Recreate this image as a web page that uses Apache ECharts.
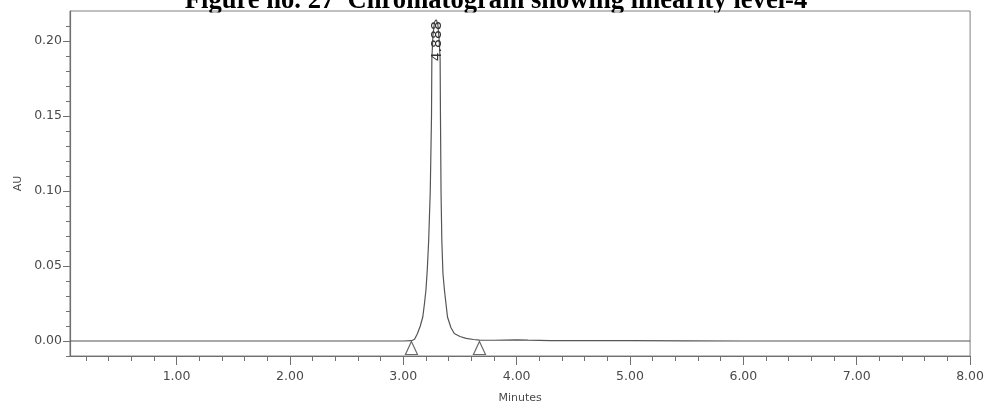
<!DOCTYPE html>
<html>
<head>
<meta charset="utf-8">
<title>Chromatogram – linearity level-4</title>
<script src="https://cdn.jsdelivr.net/npm/echarts@6.0.0/dist/echarts.min.js"></script>
<style>
  html, body { margin: 0; padding: 0; background: #fff; }
  #chart { width: 987px; height: 410px; }
</style>
</head>
<body>
<div id="chart"></div>
<script>
// Detector trace: retention time (min) and absorbance (AU)
const timeMin = [
  0.06, 0.50, 1.00, 1.50, 2.00, 2.50, 3.00,
  3.072, 3.100, 3.125, 3.150, 3.172, 3.187, 3.200, 3.212, 3.224, 3.238, 3.249,
  3.252, 3.262, 3.275, 3.290, 3.305, 3.317, 3.325, 3.328, 3.333, 3.340,
  3.350, 3.363, 3.390, 3.420, 3.450, 3.500, 3.555, 3.620, 3.672,
  3.80, 4.00, 4.10, 4.30, 4.60, 5.00, 5.50, 6.00, 7.00, 8.00
];
const absorbanceAU = [
  0.0000, 0.0000, 0.0000, 0.0000, 0.0000, 0.0000, 0.0000,
  0.0002, 0.0012, 0.0050, 0.0100, 0.0160, 0.0250, 0.0340, 0.0480, 0.0670, 0.1000, 0.1500,
  0.1880, 0.2040, 0.2125, 0.2145, 0.2110, 0.2000, 0.1880, 0.1500, 0.1000, 0.0670,
  0.0450, 0.0340, 0.0160, 0.0090, 0.0050, 0.0030, 0.0018, 0.0010, 0.0006,
  0.0005, 0.0008, 0.0006, 0.0003, 0.0002, 0.0002, 0.0001, 0.0000, 0.0000, 0.0000
];

// Integrated peak: start / end markers and retention-time label at the apex
const peakBoundsMin = [3.072, 3.672];
const peakApex = [3.290, 0.2145];
const peakLabel = '4.888';

// Axis ticks and labels
const xMajorTicks = [1, 2, 3, 4, 5, 6, 7, 8];
const xMinorTicks = [0.2, 0.4, 0.6, 0.8, 1.2, 1.4, 1.6, 1.8, 2.2, 2.4, 2.6, 2.8,
  3.2, 3.4, 3.6, 3.8, 4.2, 4.4, 4.6, 4.8, 5.2, 5.4, 5.6, 5.8, 6.2, 6.4, 6.6, 6.8,
  7.2, 7.4, 7.6, 7.8];
const yMajorTicks = [0.00, 0.05, 0.10, 0.15, 0.20];
const yMinorTicks = [-0.01, 0.01, 0.02, 0.03, 0.04, 0.06, 0.07, 0.08, 0.09,
  0.11, 0.12, 0.13, 0.14, 0.16, 0.17, 0.18, 0.19, 0.21];

const titleText = 'Figure no. 27  Chromatogram showing linearity level-4';
const xName = 'Minutes';
const yName = 'AU';

const trace = timeMin.map((t, i) => [t, absorbanceAU[i]]);
const markers = peakBoundsMin.map(t => [t, 0]);

const axisGray = '#707070';
const labelGray = '#4a4a4a';
const labelFont = 'DejaVu Sans';

const X_MIN = 0.06, X_MAX = 8.0, Y_MIN = -0.01, Y_MAX = 0.22;

const chart = echarts.init(document.getElementById('chart'), null, { renderer: 'canvas' });

chart.setOption({
  animation: false,
  backgroundColor: '#ffffff',
  grid: {
    left: 70, right: 16, top: 11, bottom: 54,
    show: true, borderColor: '#808080', borderWidth: 1, backgroundColor: 'transparent'
  },
  xAxis: [
    {
      type: 'value', min: X_MIN, max: X_MAX,
      name: xName, nameLocation: 'middle', nameGap: 37,
      nameTextStyle: { fontFamily: labelFont, fontSize: 11, color: labelGray },
      axisLine: { show: true, onZero: false, lineStyle: { color: axisGray, width: 1.2 } },
      axisTick: { show: true, customValues: xMajorTicks, length: 9, lineStyle: { color: axisGray } },
      axisLabel: {
        customValues: xMajorTicks, margin: 14,
        fontFamily: labelFont, fontSize: 12.5, color: labelGray,
        formatter: v => v.toFixed(2)
      },
      splitLine: { show: false }
    },
    {
      type: 'value', min: X_MIN, max: X_MAX, position: 'bottom',
      axisLine: { show: false, onZero: false },
      axisTick: { show: true, customValues: xMinorTicks, length: 5, lineStyle: { color: axisGray } },
      axisLabel: { show: false },
      splitLine: { show: false }
    }
  ],
  yAxis: [
    {
      type: 'value', min: Y_MIN, max: Y_MAX,
      name: yName, nameLocation: 'middle', nameGap: 46, nameRotate: 90,
      nameTextStyle: { fontFamily: labelFont, fontSize: 11, color: labelGray },
      axisLine: { show: true, onZero: false, lineStyle: { color: axisGray, width: 1.2 } },
      axisTick: { show: true, customValues: yMajorTicks, length: 7, lineStyle: { color: axisGray } },
      axisLabel: {
        customValues: yMajorTicks, margin: 8,
        fontFamily: labelFont, fontSize: 12.5, color: labelGray,
        formatter: v => v.toFixed(2)
      },
      splitLine: { show: false }
    },
    {
      type: 'value', min: Y_MIN, max: Y_MAX, position: 'left',
      axisLine: { show: false, onZero: false },
      axisTick: { show: true, customValues: yMinorTicks, length: 4, lineStyle: { color: axisGray } },
      axisLabel: { show: false },
      splitLine: { show: false }
    }
  ],
  series: [
    {
      name: 'trace',
      type: 'line',
      xAxisIndex: 0, yAxisIndex: 0,
      data: trace,
      showSymbol: false,
      smooth: false,
      clip: true,
      lineStyle: { color: '#555555', width: 1.2 },
      markPoint: {
        symbol: 'circle', symbolSize: 0,
        silent: true,
        data: [{ coord: peakApex, value: peakLabel }],
        label: {
          show: true,
          formatter: peakLabel,
          position: 'inside',
          rotate: 90,
          // offset is applied in the label's rotated frame
          offset: [-22, 1.5],
          fontFamily: labelFont, fontSize: 14, color: '#333333'
        }
      },
      z: 2
    },
    {
      name: 'peak bounds',
      type: 'scatter',
      xAxisIndex: 0, yAxisIndex: 0,
      data: markers,
      symbol: 'triangle',
      symbolSize: [12, 13],
      symbolOffset: [0, 7],
      itemStyle: { color: '#ffffff', borderColor: '#444444', borderWidth: 1.2 },
      clip: false,
      z: 3
    }
  ],
  graphic: [
    {
      type: 'text', z: 1, x: 496, y: 1.5,
      style: {
        text: titleText,
        font: 'bold 26.6px "Liberation Serif"',
        fill: '#000000',
        textAlign: 'center', align: 'center',
        textVerticalAlign: 'middle', verticalAlign: 'middle'
      }
    },
    {
      type: 'rect', z: 3,
      shape: { x: 150, y: 12.5, width: 700, height: 7 },
      style: { fill: '#ffffff' }
    }
  ]
});
</script>
</body>
</html>
